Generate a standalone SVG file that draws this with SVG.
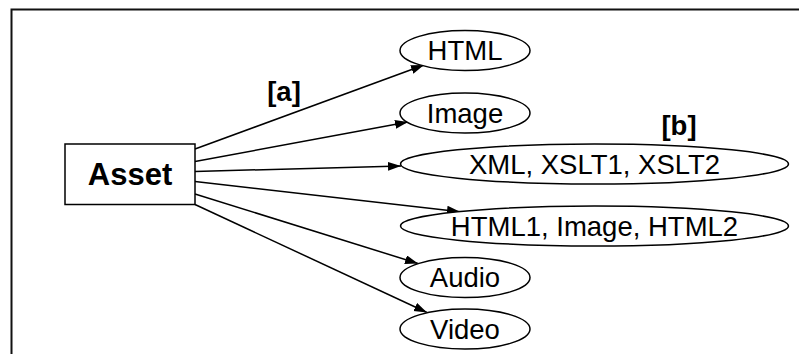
<svg xmlns="http://www.w3.org/2000/svg" width="799" height="354" viewBox="0 0 799 354">
  <style>
    .frame { fill: none; stroke: #111; stroke-width: 2; }
    .node { fill: #fff; stroke: #000; stroke-width: 1.5; }
    .lbl { font-family: "Liberation Sans", Arial, sans-serif; font-size: 27.5px; fill: #000; text-anchor: middle; }
    .bold { font-weight: bold; }
    .edge { fill: none; stroke: #000; stroke-width: 1.5; marker-end: url(#arrow); }
  </style>
  <defs>
    <marker id="arrow" markerUnits="userSpaceOnUse" markerWidth="14" markerHeight="10" refX="13" refY="4.5" orient="auto">
      <path d="M0,0 L13,4.5 L0,9 z" fill="#000"/>
    </marker>
  </defs>

  <rect width="799" height="354" fill="#fff"/>

  <!-- open frame: top and left borders only -->
  <path class="frame" d="M11.5,354 L11.5,9.5 L799,9.5"/>

  <!-- connectors -->
  <g id="edges">
    <line class="edge" x1="195" y1="149" x2="424" y2="65"/>
    <line class="edge" x1="195" y1="161.5" x2="408" y2="122"/>
    <line class="edge" x1="195" y1="171.5" x2="401" y2="166"/>
    <line class="edge" x1="195" y1="181.5" x2="460" y2="211.7"/>
    <line class="edge" x1="195" y1="194" x2="418" y2="263.5"/>
    <line class="edge" x1="195" y1="204.5" x2="427" y2="312.5"/>
    <text class="lbl bold" x="284" y="101">[a]</text>
    <text class="lbl bold" x="679" y="135">[b]</text>
  </g>

  <g id="asset">
    <rect class="node" x="65" y="144" width="130" height="60.5"/>
    <text class="lbl bold" x="130" y="185" style="font-size:31px">Asset</text>
  </g>

  <g id="html">
    <ellipse class="node" cx="465" cy="50.5" rx="65" ry="20"/>
    <text class="lbl" x="465" y="60">HTML</text>
  </g>

  <g id="image">
    <ellipse class="node" cx="465" cy="113" rx="65" ry="20"/>
    <text class="lbl" x="465" y="122.5">Image</text>
  </g>

  <g id="xml">
    <ellipse class="node" cx="594.5" cy="164" rx="194" ry="20"/>
    <text class="lbl" x="594.5" y="173.5">XML, XSLT1, XSLT2</text>
  </g>

  <g id="html-set">
    <ellipse class="node" cx="594.5" cy="226" rx="194" ry="20"/>
    <text class="lbl" x="594.5" y="235.5">HTML1, Image, HTML2</text>
  </g>

  <g id="audio">
    <ellipse class="node" cx="465" cy="277.5" rx="65" ry="20"/>
    <text class="lbl" x="465" y="287">Audio</text>
  </g>

  <g id="video">
    <ellipse class="node" cx="465" cy="329" rx="65" ry="20"/>
    <text class="lbl" x="465" y="338.5">Video</text>
  </g>
</svg>
